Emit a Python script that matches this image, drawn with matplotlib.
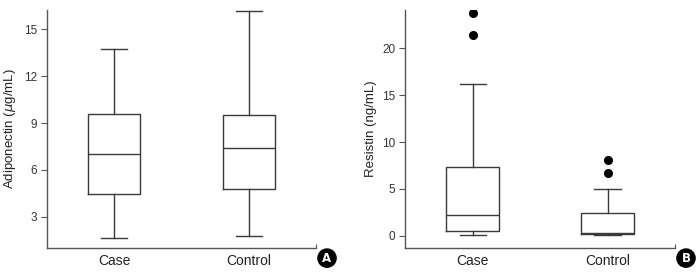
import matplotlib
matplotlib.use("Agg")
import matplotlib.pyplot as plt

plt.rcParams['font.family'] = ['Liberation Sans Narrow', 'Liberation Sans', 'DejaVu Sans']

groups = ["Case", "Control"]

# Adiponectin (ug/mL): whisker low, Q1, median, Q3, whisker high
adipo_low = [1.67, 1.78]
adipo_q1 = [4.44, 4.76]
adipo_med = [7.0, 7.41]
adipo_q3 = [9.6, 9.5]
adipo_high = [13.75, 16.18]
adipo_fliers = [[], []]

# Resistin (ng/mL)
resis_low = [0.05, 0.1]
resis_q1 = [0.5, 0.15]
resis_med = [2.22, 0.27]
resis_q3 = [7.36, 2.43]
resis_high = [16.15, 5.0]
resis_fliers = [[21.47, 23.75], [6.68, 8.14]]

line_col = "#3a3a3a"


def make_stats(low, q1, med, q3, high, fliers):
    stats = []
    for i in range(len(groups)):
        stats.append(dict(whislo=low[i], q1=q1[i], med=med[i], q3=q3[i],
                          whishi=high[i], fliers=fliers[i], label=groups[i]))
    return stats


def draw(ax, stats, ylim, yticks, ylabel, letter, letter_x):
    ax.bxp(stats, positions=[1, 2], widths=0.39, showfliers=True,
           boxprops=dict(color=line_col, linewidth=1),
           whiskerprops=dict(color=line_col, linewidth=1),
           capprops=dict(color=line_col, linewidth=1),
           medianprops=dict(color=line_col, linewidth=1),
           flierprops=dict(marker="o", markerfacecolor="black",
                           markeredgecolor="black", markersize=5.5))
    ax.set_xlim(0.5, 2.5)
    ax.set_ylim(*ylim)
    ax.set_yticks(yticks)
    ax.set_xticks([2.5], minor=True)
    ax.spines["top"].set_visible(False)
    ax.spines["right"].set_visible(False)
    for s in ("left", "bottom"):
        ax.spines[s].set_color("#555555")
        ax.spines[s].set_linewidth(1)
    ax.tick_params(axis="x", which="major", length=0, pad=4, labelsize=10,
                   colors="#222222")
    ax.tick_params(axis="x", which="minor", direction="in", length=3,
                   width=0.8, color="#555555")
    ax.tick_params(axis="y", length=4, width=0.8, color="#555555",
                   labelsize=8.5, labelcolor="#333333", pad=3)
    ax.set_ylabel(ylabel, fontsize=9.5, color="#222222", labelpad=4)
    fig.text(letter_x, 0.058, letter, ha="center", va="center",
             color="white", fontsize=8.5, fontweight="bold",
             family="DejaVu Sans",
             bbox=dict(boxstyle="circle,pad=0.22", fc="black", ec="black"))


fig = plt.figure(figsize=(6.97, 2.74), dpi=100)
ax1 = fig.add_axes([0.0674, 0.095, 0.386, 0.869])
ax2 = fig.add_axes([0.5815, 0.095, 0.387, 0.869])

draw(ax1, make_stats(adipo_low, adipo_q1, adipo_med, adipo_q3, adipo_high, adipo_fliers),
     (1.0, 16.25), [3, 6, 9, 12, 15], "Adiponectin ($\\mu$g/mL)", "A", 327 / 697)
draw(ax2, make_stats(resis_low, resis_q1, resis_med, resis_q3, resis_high, resis_fliers),
     (-1.29, 24.1), [0, 5, 10, 15, 20], "Resistin (ng/mL)", "B", 686 / 697)

fig.savefig("out.png", dpi=100)
